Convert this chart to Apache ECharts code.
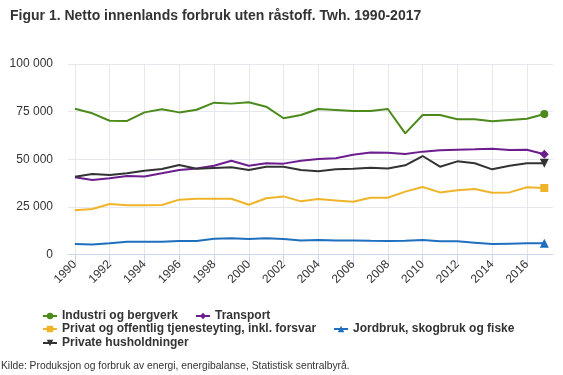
<!DOCTYPE html>
<html><head><meta charset="utf-8">
<script src="https://cdn.jsdelivr.net/npm/echarts@6/dist/echarts.min.js"></script>
<style>html,body{margin:0;padding:0;background:#fff}#c{width:563px;height:375px}</style>
</head><body><div id="c"></div>
<script>
const years = [1990,1991,1992,1993,1994,1995,1996,1997,1998,1999,2000,2001,2002,2003,2004,2005,2006,2007,2008,2009,2010,2011,2012,2013,2014,2015,2016,2017];
const industri = [76500,74100,70200,70100,74600,76200,74600,76000,79700,79200,79900,77600,71500,73200,76400,75900,75300,75300,76400,63600,73200,73200,71000,71000,69900,70600,71300,73800];
const transport = [40500,39100,40000,41200,41000,42600,44400,45200,46600,49200,46600,47900,47700,49200,50100,50500,52400,53600,53400,52800,54000,54700,55000,55200,55500,54900,55000,52600];
const privat = [23200,23900,26500,25800,25800,26000,28800,29300,29300,29300,26100,29500,30500,27900,29100,28400,27700,29800,29800,33000,35400,32600,33700,34400,32400,32600,35300,34900];
const jordbruk = [5500,5300,5900,6700,6700,6700,7100,7100,8300,8500,8100,8500,8100,7400,7600,7400,7400,7200,7100,7200,7600,6900,6900,6200,5500,5700,5900,5900];
const husholdninger = [40800,42300,41700,42600,44000,44900,47000,45000,45400,45800,44400,46100,46100,44400,43700,44700,45000,45600,45200,46800,51700,46100,48900,47900,44700,46600,47900,47900];
const xTickYears = [1990,1992,1994,1996,1998,2000,2002,2004,2006,2008,2010,2012,2014,2016];
const seriesNames = ['Industri og bergverk','Transport','Privat og offentlig tjenesteyting, inkl. forsvar','Jordbruk, skogbruk og fiske','Private husholdninger'];
const titleText = 'Figur 1. Netto innenlands forbruk uten råstoff. Twh. 1990-2017';
const sourceText = 'Kilde: Produksjon og forbruk av energi, energibalanse, Statistisk sentralbyrå.';

const FONT = '"Liberation Sans", Arial, Helvetica, sans-serif';
const last = years.length - 1;
function mk(name, arr, color, symbol, size, rotate) {
  return {
    name, type: 'line', data: years.map((y, i) => [y, arr[i]]),
    color, symbol, symbolRotate: rotate || 0,
    symbolSize: (v, p) => p.dataIndex === last ? size : 0,
    showSymbol: true, showAllSymbol: true,
    lineStyle: { width: 2, color }, itemStyle: { color },
    emphasis: { disabled: true }, z: 3
  };
}
const fmt = v => String(v).replace(/\B(?=(\d{3})+(?!\d))/g, ' ');
const legendBase = { padding: 0, itemGap: 17, itemWidth: 14, itemHeight: 8,
  textStyle: { fontSize: 12, fontWeight: 'bold', color: '#333', fontFamily: FONT } };

const chart = echarts.init(document.getElementById('c'));
chart.setOption({
  animation: false,
  backgroundColor: '#fff',
  title: [
    { text: titleText, left: 10, top: 9, padding: 0,
      textStyle: { fontSize: 14, fontWeight: 'bold', color: '#333', fontFamily: FONT } },
    { text: sourceText, left: 1, top: 361, padding: 0,
      textStyle: { fontSize: 10.3, fontWeight: 'normal', color: '#333', fontFamily: FONT } }
  ],
  grid: { left: 68, right: 10, top: 64, bottom: 120.5, containLabel: false },
  xAxis: {
    type: 'value', min: 1989.6, max: 2017.5,
    axisLine: { show: true, onZero: true, lineStyle: { color: '#ccd6eb', width: 1 } },
    axisTick: { show: true, length: 10, customValues: xTickYears, lineStyle: { color: '#ccd6eb' } },
    axisLabel: { customValues: xTickYears, rotate: 45, margin: 8, fontSize: 12, color: '#333',
      fontFamily: FONT, formatter: v => String(v) },
    splitLine: { show: true, lineStyle: { color: '#e6e8ee' } }
  },
  yAxis: {
    type: 'value', min: 0, max: 100000, interval: 25000,
    axisLine: { show: false }, axisTick: { show: false },
    axisLabel: { margin: 15, fontSize: 12, color: '#333', fontFamily: FONT, formatter: fmt },
    splitLine: { show: true, lineStyle: { color: '#e6e8ee' } }
  },
  legend: [
    Object.assign({}, legendBase, { left: 42, top: 310, data: [seriesNames[0], seriesNames[1]] }),
    Object.assign({}, legendBase, { left: 42, top: 323, data: [seriesNames[2], seriesNames[3]] }),
    Object.assign({}, legendBase, { left: 42, top: 337, data: [seriesNames[4]] })
  ],
  series: [
    mk(seriesNames[0], industri, '#4b8a1b', 'circle', 8),
    mk(seriesNames[1], transport, '#6c1d8e', 'diamond', 9),
    mk(seriesNames[2], privat, '#f0b42a', 'rect', 8),
    mk(seriesNames[3], jordbruk, '#1f6fbf', 'triangle', 9),
    mk(seriesNames[4], husholdninger, '#333333', 'triangle', 9, 180)
  ]
});
</script></body></html>
